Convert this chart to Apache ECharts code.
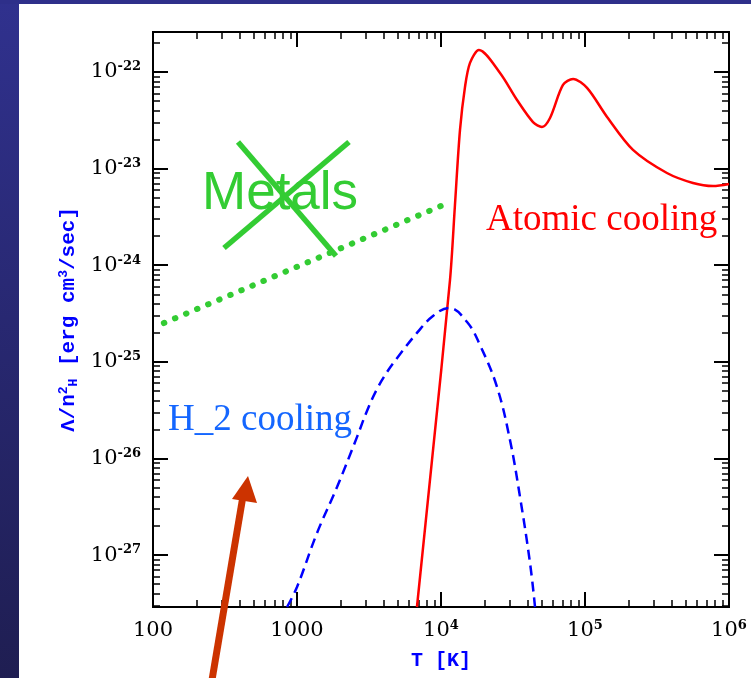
<!DOCTYPE html>
<html>
<head>
<meta charset="utf-8">
<script src="https://cdn.jsdelivr.net/npm/echarts@6/dist/echarts.min.js"></script>
<style>
  html, body { margin: 0; padding: 0; background: #fff; }
  #chart { width: 751px; height: 678px; }
</style>
</head>
<body>
<div id="chart"></div>
<script>
// T [K] and Lambda/n_H^2 [erg cm^3/s]
var atomicT = [6808, 8660, 11550, 12500, 13550, 14680, 15900, 18360, 25700, 33730, 43550,
  50260, 57150, 70310, 82600, 103300, 142300, 215400, 370700, 562300, 774600, 1000000];
var atomicL = [2.9e-28, 9.6e-27, 7.03e-25, 4.2e-24, 2.51e-23, 7.0e-23, 1.24e-22, 1.69e-22, 9.77e-23, 5.13e-23, 3.03e-23,
  2.70e-23, 3.34e-23, 7.33e-23, 8.47e-23, 6.83e-23, 3.42e-23, 1.56e-23, 9.0e-24, 7.1e-24, 6.6e-24, 6.93e-24];

var h2T = [853, 1000, 1377, 1897, 2612, 3062, 3594, 4217, 4946, 6808, 8795, 11370, 15170, 18660, 24490, 30130, 35390, 41520, 44970];
var h2L = [2.9e-28, 4.67e-28, 1.69e-27, 5.06e-27, 1.67e-26, 3.10e-26, 5.22e-26, 7.83e-26, 1.09e-25, 1.99e-25, 2.98e-25, 3.61e-25,
  2.58e-25, 1.49e-25, 5.48e-26, 1.55e-26, 3.98e-27, 8.26e-28, 2.9e-28];

var metalT = [119, 10000];
var metalL = [2.52e-25, 4.10e-24];

var xTicks = [100, 1000, 1e4, 1e5, 1e6];
var yTicks = [1e-27, 1e-26, 1e-25, 1e-24, 1e-23, 1e-22];
var xRange = [100, 1e6];
var yRange = [2.9e-28, 2.59e-22];

function lg(v) { return Math.round(Math.log10(v) * 1e6) / 1e6; }
function pairs(xs, ys) {
  var out = [];
  for (var i = 0; i < xs.length; i++) out.push([lg(xs[i]), lg(ys[i])]);
  return out;
}
function minorTicks(range) {
  var lo = lg(range[0]), hi = lg(range[1]), out = [];
  for (var d = Math.floor(lo); d <= Math.ceil(hi); d++) {
    for (var k = 2; k <= 9; k++) {
      var v = d + Math.log10(k);
      if (v > lo && v < hi) out.push(v);
    }
  }
  return out;
}

var xMajor = xTicks.map(lg), yMajor = yTicks.map(lg);
var xMinor = minorTicks(xRange), yMinor = minorTicks(yRange);

var numFont = 'DejaVu Serif';
var richNum = {
  b: { fontFamily: numFont, fontSize: 21, color: '#000', lineHeight: 23 },
  s: { fontFamily: numFont, fontSize: 13, fontWeight: 'bold', color: '#000', verticalAlign: 'top', lineHeight: 23 }
};

function makeAxis(kind, pos, major, withLabel) {
  var range = kind === 'x' ? xRange : yRange;
  var ax = {
    type: 'value',
    position: pos,
    min: lg(range[0]),
    max: lg(range[1]),
    splitLine: { show: false },
    axisLine: { show: true, onZero: false, lineStyle: { color: '#000', width: 2 } },
    axisTick: {
      show: true, inside: true,
      length: major ? 15 : 7,
      customValues: major ? (kind === 'x' ? xMajor : yMajor) : (kind === 'x' ? xMinor : yMinor),
      lineStyle: { color: '#000', width: major ? 2 : 1.5 }
    },
    axisLabel: { show: false }
  };
  if (withLabel) {
    ax.axisLabel = {
      show: true,
      margin: 12,
      customValues: kind === 'x' ? xMajor : yMajor,
      formatter: function (v) {
        var e = Math.round(v);
        if (kind === 'x' && e <= 3) return '{b|' + Math.pow(10, e) + '}';
        return '{b|10}{s|' + e + '}';
      },
      rich: richNum
    };
  }
  return ax;
}

var xAxes = [makeAxis('x', 'bottom', true, true), makeAxis('x', 'bottom', false, false),
  makeAxis('x', 'top', true, false), makeAxis('x', 'top', false, false)];
var yAxes = [makeAxis('y', 'left', true, true), makeAxis('y', 'left', false, false),
  makeAxis('y', 'right', true, false), makeAxis('y', 'right', false, false)];

var titleStyle = { fontFamily: 'Liberation Mono', fontWeight: 'bold', color: '#0000ff' };
xAxes[0].name = 'T [K]';
xAxes[0].nameLocation = 'middle';
xAxes[0].nameGap = 44;
xAxes[0].nameTextStyle = Object.assign({ fontSize: 20 }, titleStyle);

yAxes[0].name = '{t|Λ/n}{p|2}{u|H}{t| [erg cm}{p|3}{t|/sec]}';
yAxes[0].nameLocation = 'middle';
yAxes[0].nameRotate = 90;
yAxes[0].nameGap = 73;
yAxes[0].nameTextStyle = {
  rich: {
    t: Object.assign({ fontSize: 21, lineHeight: 23 }, titleStyle),
    p: Object.assign({ fontSize: 13, lineHeight: 23, verticalAlign: 'top' }, titleStyle),
    u: Object.assign({ fontSize: 13, lineHeight: 23, verticalAlign: 'bottom' }, titleStyle)
  }
};

var chart = echarts.init(document.getElementById('chart'));
var green = '#33cc33';
var arrowRed = '#cc3300';

chart.setOption({
  backgroundColor: '#ffffff',
  animation: false,
  grid: { left: 153, right: 22, top: 32, bottom: 71 },
  xAxis: xAxes,
  yAxis: yAxes,
  graphic: [
    {
      type: 'rect', z: -10, shape: { x: 0, y: 0, width: 19, height: 678 },
      style: { fill: new echarts.graphic.LinearGradient(0, 0, 0, 1, [
        { offset: 0, color: '#30318e' }, { offset: 1, color: '#1f1e52' }]) }
    },
    { type: 'rect', z: -10, shape: { x: 0, y: 0, width: 751, height: 4 }, style: { fill: '#2e2f8a' } },
    {
      type: 'text', x: 202, y: 194,
      style: { text: 'Metals', fill: green, font: '53px "Liberation Sans"', verticalAlign: 'middle' }
    },
    { type: 'line', shape: { x1: 238, y1: 142, x2: 336, y2: 256 }, style: { stroke: green, lineWidth: 5.5 } },
    { type: 'line', shape: { x1: 349, y1: 142, x2: 224, y2: 248 }, style: { stroke: green, lineWidth: 5.5 } },
    {
      type: 'text', x: 486, y: 220,
      style: { text: 'Atomic cooling', fill: '#ff0000', font: '37px "Liberation Serif"', verticalAlign: 'middle' }
    },
    {
      type: 'text', x: 168, y: 420,
      style: { text: 'H_2 cooling', fill: '#1466ff', font: '37px "Liberation Serif"', verticalAlign: 'middle' }
    },
    { type: 'line', z: 10, shape: { x1: 212, y1: 680, x2: 243, y2: 496 }, style: { stroke: arrowRed, lineWidth: 7 } },
    { type: 'polygon', z: 10, shape: { points: [[248, 476], [232, 499], [257, 503]] }, style: { fill: arrowRed } }
  ],
  series: [
    {
      name: 'Atomic cooling', type: 'line', data: pairs(atomicT, atomicL),
      smooth: 0.3, showSymbol: false,
      lineStyle: { color: '#ff0000', width: 2.5 }
    },
    {
      name: 'H_2 cooling', type: 'line', data: pairs(h2T, h2L),
      smooth: 0.4, showSymbol: false,
      lineStyle: { color: '#0000ff', width: 2.5, type: [10, 6] }
    },
    {
      name: 'Metals', type: 'line', data: pairs(metalT, metalL),
      showSymbol: false,
      lineStyle: { color: green, width: 6, type: [0.5, 11.5], cap: 'round' }
    }
  ]
});
</script>
</body>
</html>
